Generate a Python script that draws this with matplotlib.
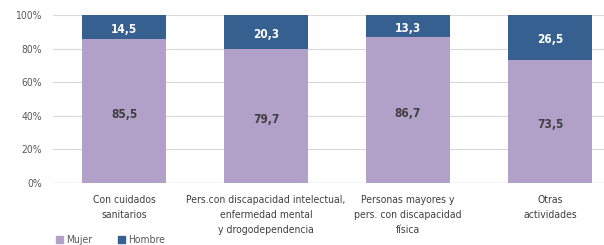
import matplotlib
matplotlib.use('Agg')
import matplotlib.pyplot as plt
from matplotlib.patches import Patch

categories = ['Con cuidados\nsanitarios',
              'Pers.con discapacidad intelectual,\nenfermedad mental\ny drogodependencia',
              'Personas mayores y\npers. con discapacidad\nfísica',
              'Otras\nactividades']
mujer = [85.5, 79.7, 86.7, 73.5]
hombre = [14.5, 20.3, 13.3, 26.5]
yticks = [0, 20, 40, 60, 80, 100]

C_MUJER = '#B1A0C7'
C_HOMBRE = '#35608F'
plt.rcParams['font.family'] = ['DejaVu Sans']
plt.rcParams['font.stretch'] = 'condensed'

fig = plt.figure(figsize=(6.04, 2.45), dpi=100)
ax = fig.add_axes([53 / 604, 1 - 183 / 245, (604 - 53) / 604, (183 - 15) / 245])

x = range(len(categories))
w = 0.585
ax.bar(x, mujer, width=w, color=C_MUJER, zorder=2)
ax.bar(x, hombre, width=w, bottom=mujer, color=C_HOMBRE, zorder=2)

for i in x:
    ax.annotate(('%.1f' % mujer[i]).replace('.', ','), (i, mujer[i] / 2),
                xytext=(0, -2.5), textcoords='offset points',
                ha='center', va='center', fontsize=8.5, fontweight='bold', color='#404040')
    ax.annotate(('%.1f' % hombre[i]).replace('.', ','), (i, mujer[i] + hombre[i] / 2),
                xytext=(0, -1.5), textcoords='offset points',
                ha='center', va='center', fontsize=8.5, fontweight='bold', color='white')

ax.set_xlim(-0.5, 3.38)
ax.set_ylim(0, 100)
ax.set_yticks(yticks)
ax.set_yticklabels(['%d%%' % v for v in yticks], fontsize=7.5, color='#595959')
ax.set_xticks(list(x))
ax.set_xticklabels(categories, fontsize=7.5, color='#404040', linespacing=1.62)
ax.tick_params(length=0)
ax.tick_params(axis='x', pad=8.5)
ax.tick_params(axis='y', pad=8)
ax.grid(axis='y', color='#D9D9D9', linewidth=0.8, zorder=0)
for s in ax.spines.values():
    s.set_visible(False)
ax.axhline(0, color='#D9D9D9', linewidth=1, zorder=1)

handles = [Patch(color=C_MUJER, label='Mujer'), Patch(color=C_HOMBRE, label='Hombre')]
fig.legend(handles=handles, loc='lower left', bbox_to_anchor=(55 / 604, -0.005), ncol=2,
           frameon=False, fontsize=7.5, handlelength=0.7, handleheight=0.7,
           handletextpad=0.3, columnspacing=2.4, labelcolor='#595959',
           borderpad=0.1, borderaxespad=0)

fig.savefig('out.png', dpi=100)
